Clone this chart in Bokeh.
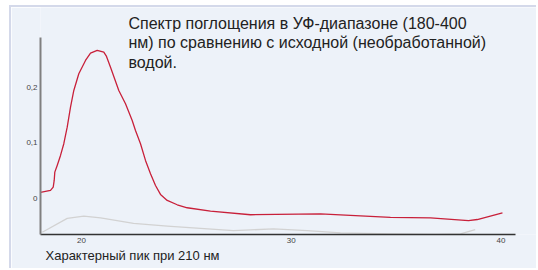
from bokeh.plotting import figure
from bokeh.models import Range1d, FixedTicker, Label, Title
from bokeh.embed import file_html
from bokeh.resources import INLINE

# ---- data ----
x_treated = [18.045, 18.522, 18.651, 18.698, 18.727, 18.841, 18.999, 19.156, 19.318, 19.476,
             19.633, 19.871, 20.191, 20.429, 20.749, 21.063, 21.192, 21.383, 21.778, 22.098,
             22.417, 22.574, 22.813, 23.051, 23.290, 23.528, 23.766, 24.086, 24.563, 25.039,
             26.150, 28.057, 31.39, 34.73, 36.64, 38.45, 38.87, 40.07]
y_treated = [0.0108, 0.0144, 0.0204, 0.0324, 0.0474, 0.0595, 0.0775, 0.0986, 0.1285, 0.1645,
             0.1946, 0.2247, 0.2486, 0.2618, 0.2667, 0.2636, 0.2559, 0.2366, 0.1946, 0.1706,
             0.1405, 0.1225, 0.0986, 0.0685, 0.0445, 0.0234, 0.0072, -0.0036, -0.0114, -0.0168,
             -0.0229, -0.0294, -0.028, -0.034, -0.035, -0.040, -0.038, -0.026]

x_raw = [18.13, 19.32, 20.11, 20.91, 22.48, 24.09, 25.67, 27.25, 29.15, 30.76, 32.35,
         34.73, 36.88, 38.07, 38.77]
y_raw = [-0.061, -0.036, -0.032, -0.035, -0.045, -0.050, -0.054, -0.058, -0.055, -0.058,
         -0.062, -0.064, -0.065, -0.064, -0.056]

x_ticks = [20, 30, 40]
y_ticks = [0, 0.1, 0.2]
y_tick_labels = ["0", "0,1", "0,2"]
x_axis_span = (18.045, 40.68)
y_axis_span = (-0.065, 0.29)

title_text = ("Спектр поглощения в УФ-диапазоне (180-400\n"
              "нм) по сравнению с исходной (необработанной)\n"
              "водой.")
x_label_text = "Характерный пик при 210 нм"

BG = "#edf2f9"
BAND = "#d4d9ea"
FONT = "Liberation Sans"

p = figure(width=527, height=263, output_backend="svg", toolbar_location=None,
           x_range=Range1d(18.045, 41.788), y_range=Range1d(y_axis_span[0], 0.3441),
           min_border_left=29, min_border_right=0, min_border_top=0, min_border_bottom=36,
           background_fill_color=BG, border_fill_color=BG)
p.outline_line_color = None
p.grid.visible = False
p.styles = {"margin-left": "9px", "margin-top": "5px",
            "border-top": f"2px solid {BAND}", "border-left": f"2px solid {BAND}"}

p.line(x_raw, y_raw, line_color="#d2d2d2", line_width=1.3, line_join="round")
p.line(x_treated, y_treated, line_color="#c8203a", line_width=1.3, line_join="round")

xa = p.xaxis[0]
xa.bounds = x_axis_span
xa.ticker = FixedTicker(ticks=x_ticks)
xa.axis_line_color = "#333333"
xa.axis_line_width = 1.5
xa.major_tick_line_color = None
xa.minor_tick_line_color = None
xa.major_tick_out = 0
xa.minor_tick_out = 0
xa.major_label_text_font = FONT
xa.major_label_text_font_size = "8px"
xa.major_label_text_color = "#444444"
xa.major_label_standoff = 3

ya = p.yaxis[0]
ya.bounds = y_axis_span
ya.ticker = FixedTicker(ticks=y_ticks)
ya.major_label_overrides = {t: s for t, s in zip(y_ticks, y_tick_labels)}
ya.axis_line_color = "#808080"
ya.axis_line_width = 2
ya.major_tick_line_color = None
ya.minor_tick_line_color = None
ya.major_tick_out = 0
ya.minor_tick_out = 0
ya.major_label_text_font = FONT
ya.major_label_text_font_size = "8px"
ya.major_label_text_color = "#444444"
ya.major_label_standoff = 3

p.add_layout(Label(x=88, y=220, x_units="screen", y_units="screen", text=title_text,
                   text_font=FONT, text_font_size="16px", text_color="#222222",
                   text_baseline="top", text_align="left", text_line_height=1.15))
p.add_layout(Title(text=x_label_text, align="left", offset=5, standoff=0,
                   text_font=FONT, text_font_size="13px", text_font_style="normal",
                   text_color="#222222", text_line_height=0.85), "below")

open("out.html", "w").write(file_html(p, INLINE))
